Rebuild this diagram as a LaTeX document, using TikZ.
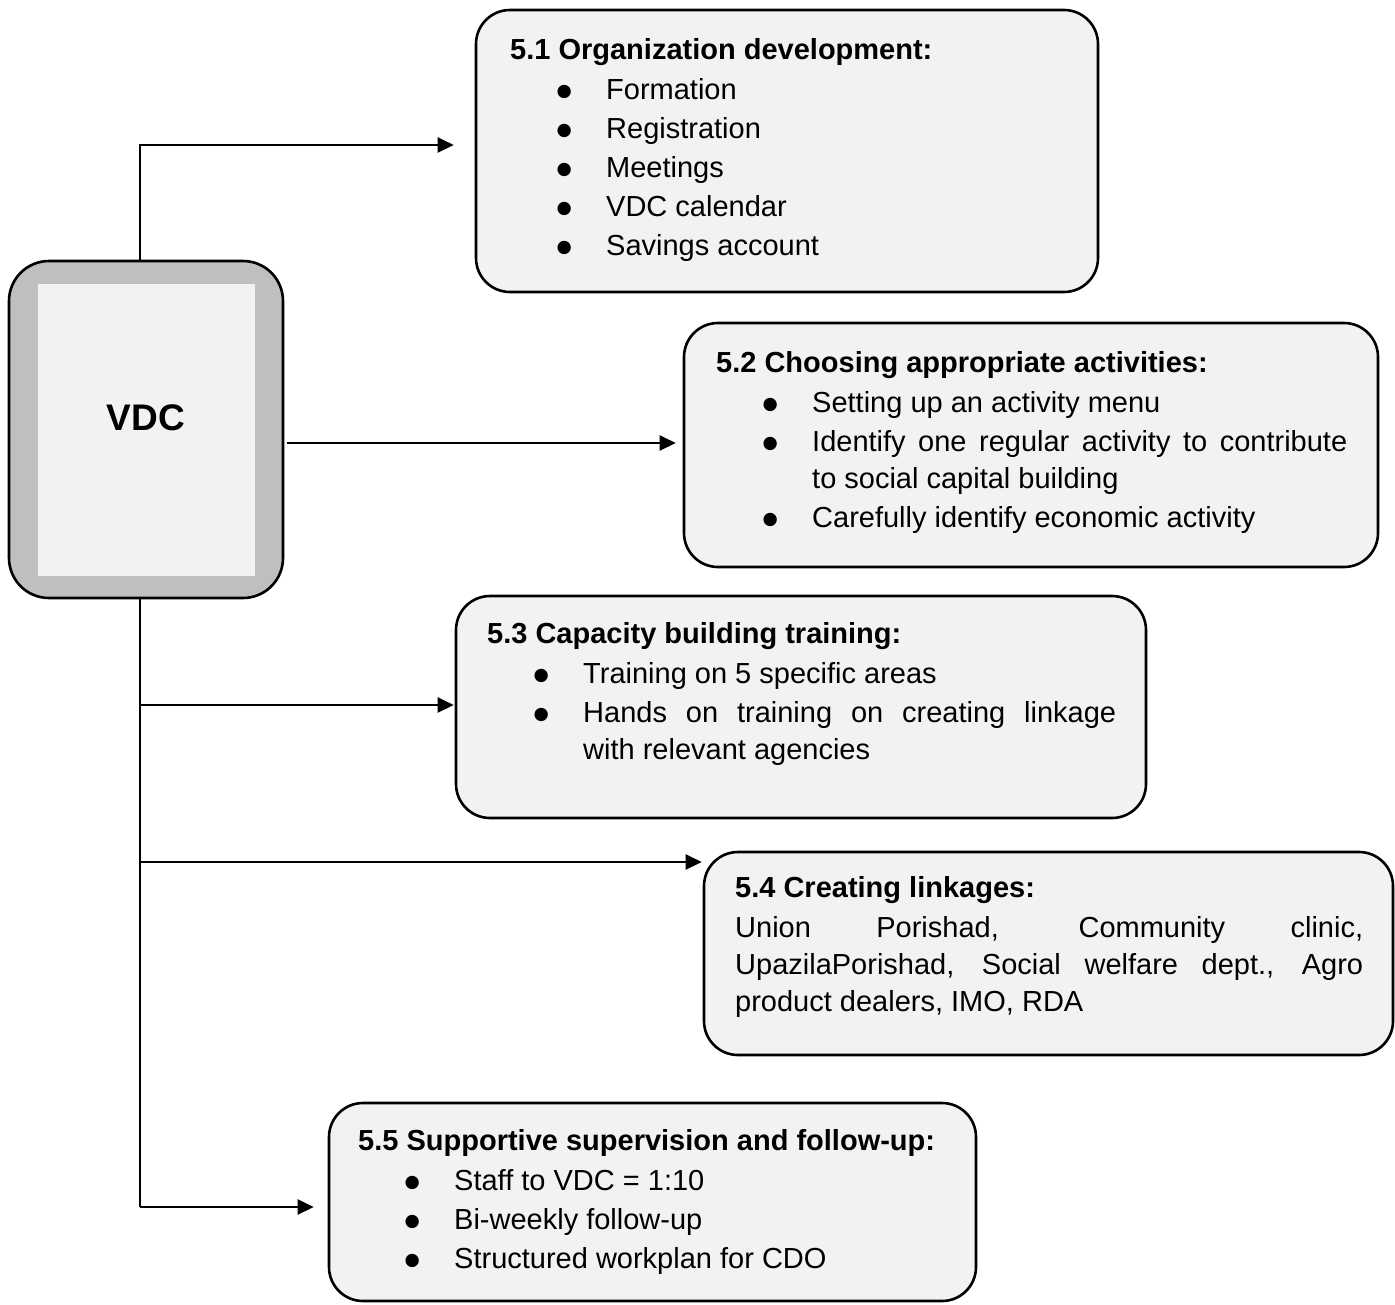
\documentclass[tikz,border=0pt]{standalone}
\usepackage{fontspec}
\setmainfont{Liberation Sans}
\newfontfamily\bxsymfont{DejaVu Sans}
\usetikzlibrary{arrows.meta}
\definecolor{boxfill}{HTML}{F2F2F2}
\definecolor{vdcrim}{HTML}{BFBFBF}
\newcommand\bodyfont{\fontsize{29}{37}\selectfont\hyphenpenalty=10000\tolerance=9999\emergencystretch=20pt}
\newcommand\bxhead[1]{\noindent{\bfseries #1}\par\vskip3pt}
\newcommand\bxbullet{\raisebox{2.5pt}{\bxsymfont\fontsize{17.5}{17.5}\selectfont ●}}
\newcommand\bxitem[1]{\noindent\hangindent=96pt\hangafter=1\hbox to 96pt{\hskip54pt\hbox to 0pt{\hss\bxbullet\hss}\hfil}#1\par\vskip2pt}
\tikzset{
  panel/.style={rectangle, draw=black, line width=2.6pt, fill=boxfill, rounded corners=34pt, inner sep=0pt},
  body/.style={anchor=base west, inner sep=0pt, align=justify, font=\bodyfont},
  conn/.style={line width=2.4pt, draw=black},
  arr/.style={conn, -{Triangle[length=16pt,width=15pt]}},
}
\begin{document}
\begin{tikzpicture}[x=1pt,y=-1pt]
\useasboundingbox (0,0) rectangle (1395,1304);

% VDC block
\node[rectangle, draw=black, line width=2.6pt, fill=vdcrim, rounded corners=40pt, minimum width=274pt, minimum height=337pt, inner sep=0pt] (vdc) at (146,429.5) {};
\node[rectangle, fill=boxfill, minimum width=217pt, minimum height=292pt, inner sep=0pt] (vdcin) at (146.5,430) {};
\node[font=\fontsize{37}{44}\selectfont\bfseries, inner sep=0pt] (vdclabel) at (146,418) {VDC};

% panels
\node[panel, minimum width=622pt, minimum height=282pt] (b1) at (787,151) {};
\node[panel, minimum width=694pt, minimum height=244pt] (b2) at (1031,445) {};
\node[panel, minimum width=690pt, minimum height=222pt] (b3) at (801,707) {};
\node[panel, minimum width=689pt, minimum height=203pt] (b4) at (1048.5,953.5) {};
\node[panel, minimum width=647pt, minimum height=198pt] (b5) at (652.5,1202) {};

% texts
\node[body, text width=580pt] (t1) at (510,59) {\bxhead{5.1 Organization development:}\bxitem{Formation}\bxitem{Registration}\bxitem{Meetings}\bxitem{VDC calendar}\bxitem{Savings account}};
\node[body, text width=631pt] (t2) at (716,372) {\bxhead{5.2 Choosing appropriate activities:}\bxitem{Setting up an activity menu}\bxitem{Identify one regular activity to contribute\linebreak to social capital building}\bxitem{Carefully identify economic activity}};
\node[body, text width=629pt] (t3) at (487,643) {\bxhead{5.3 Capacity building training:}\bxitem{Training on 5 specific areas}\bxitem{Hands on training on creating linkage\linebreak with relevant agencies}};
\node[body, text width=628pt] (t4) at (735,897) {\bxhead{5.4 Creating linkages:}\noindent Union Porishad, Community clinic,\linebreak UpazilaPorishad, Social welfare dept., Agro\linebreak product dealers, IMO, RDA};
\node[body, text width=610pt] (t5) at (358,1150) {\bxhead{5.5 Supportive supervision and follow-up:}\bxitem{Staff to VDC = 1:10}\bxitem{Bi-weekly follow-up}\bxitem{Structured workplan for CDO}};

% connectors
\coordinate (j1) at (140,145);
\coordinate (a2) at (287,443);
\coordinate (j3) at (140,705);
\coordinate (j4) at (140,862);
\coordinate (j5) at (140,1207);

\draw[arr, shorten >=21pt] (vdc.north -| j1) -- (j1) -- (j1 -| b1.west);
\draw[arr, shorten <=3pt, shorten >=7pt] (vdc.east |- a2) -- (a2 -| b2.west);
\draw[conn] (vdc.south -| j5) -- (j5);
\draw[arr, shorten >=1pt] (j3) -- (j3 -| b3.west);
\draw[arr, shorten >=1pt] (j4) -- (j4 -| b4.west);
\draw[arr, shorten >=14pt] (j5) -- (j5 -| b5.west);
\end{tikzpicture}
\end{document}
